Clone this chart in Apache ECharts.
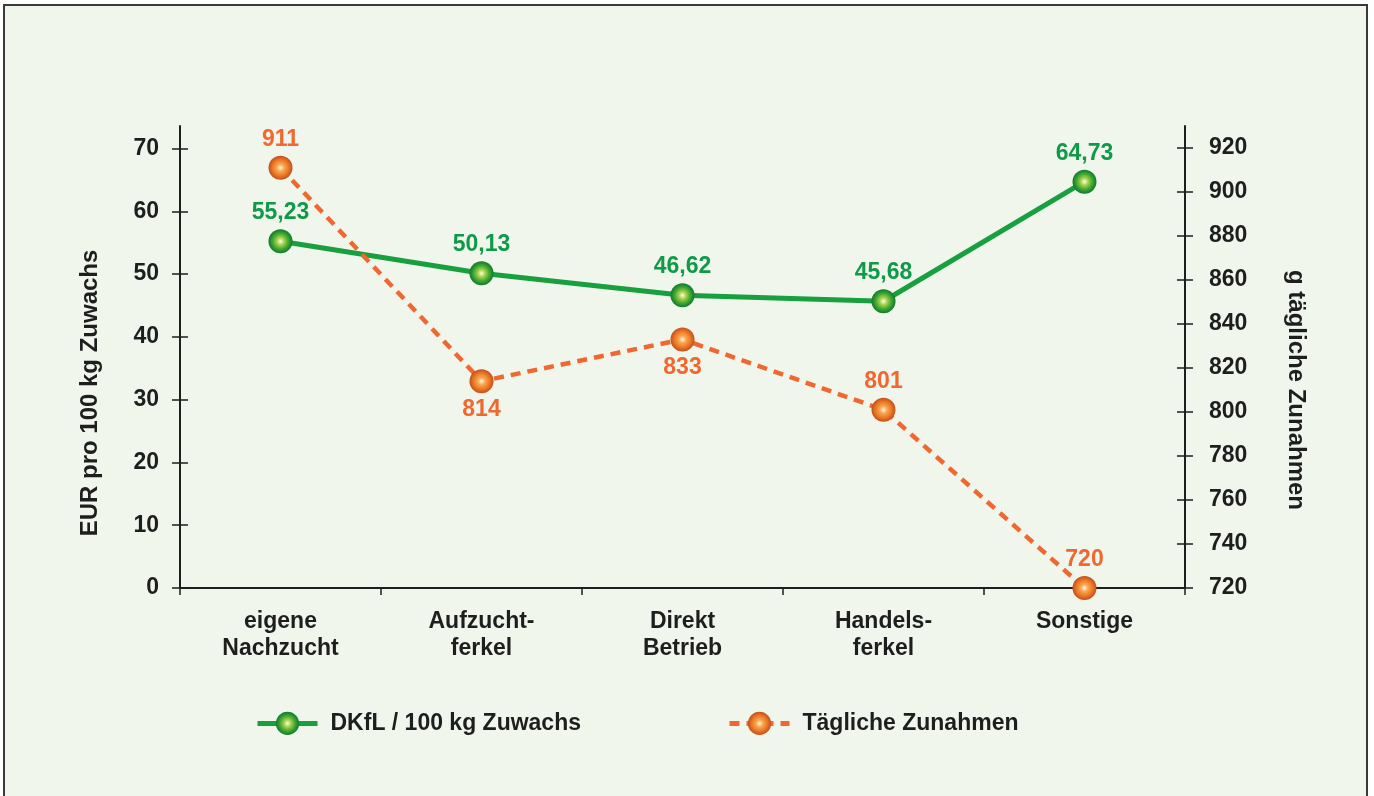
<!DOCTYPE html>
<html>
<head>
<meta charset="utf-8">
<script src="https://cdn.jsdelivr.net/npm/echarts@6/dist/echarts.min.js"></script>
<style>
  html, body { margin: 0; padding: 0; background: #ffffff; overflow: hidden; }
  #frame { position: absolute; left: 3px; top: 4px; width: 1361px; height: 820px;
           border: 2px solid #3a3a3a; background: #f0f6ec; }
  #chart { position: absolute; left: 0; top: 0; width: 1374px; height: 796px; }
</style>
</head>
<body>
<div id="frame"></div>
<div id="chart"></div>
<script>
// Kategorien und Werte
const categories = ['eigene\nNachzucht', 'Aufzucht-\nferkel', 'Direkt\nBetrieb', 'Handels-\nferkel', 'Sonstige']
const dkflValues = [55.23, 50.13, 46.62, 45.68, 64.73]
const zunahmenValues = [911, 814, 833, 801, 720]
const zunahmenLabelPos = ['top', 'bottom', 'bottom', 'top', 'top']
const leftTicks = [0, 10, 20, 30, 40, 50, 60, 70]
const rightTicks = [720, 740, 760, 780, 800, 820, 840, 860, 880, 900, 920]

const green = '#17a03d'
const greenText = '#0f9a48'
const orange = '#f0672f'
const dark = '#1e1e1e'
const font = 'Liberation Sans, Arial, sans-serif'
const fs = 23

const chart = echarts.init(document.getElementById('chart'))

const greenBall = {
  type: 'radial', x: 0.5, y: 0.5, r: 0.5,
  colorStops: [
    { offset: 0, color: '#fbfde8' },
    { offset: 0.3, color: '#a8d24c' },
    { offset: 0.65, color: '#43a832' },
    { offset: 1, color: '#0c7a2c' }
  ]
}
const orangeBall = {
  type: 'radial', x: 0.5, y: 0.5, r: 0.5,
  colorStops: [
    { offset: 0, color: '#fff4e2' },
    { offset: 0.3, color: '#f7a850' },
    { offset: 0.65, color: '#ee7a28' },
    { offset: 1, color: '#c2501a' }
  ]
}

function yAxisBase(extra) {
  return Object.assign({
    type: 'value',
    splitLine: { show: false },
    axisLine: { show: true, lineStyle: { color: dark, width: 2 } }
  }, extra)
}

const option = {
  backgroundColor: 'transparent',
  animation: false,
  textStyle: { fontFamily: font },
  grid: { left: 180, right: 189, top: 126, bottom: 208 },
  legend: {
    bottom: 56,
    left: 250,
    itemWidth: 60,
    itemHeight: 29,
    itemGap: 146,
    lineStyle: { width: 5 },
    textStyle: { fontSize: fs, fontWeight: 'bold', color: dark, fontFamily: font, padding: [0, 0, 0, 8] },
    data: ['DKfL / 100 kg Zuwachs', 'Tägliche Zunahmen']
  },
  xAxis: {
    type: 'category',
    data: categories,
    axisLine: { lineStyle: { color: dark, width: 2 } },
    axisTick: { show: true, length: 7, lineStyle: { color: dark, width: 1.5 } },
    axisLabel: {
      margin: 20, fontSize: fs, fontWeight: 'bold', color: dark, lineHeight: 27, fontFamily: font
    }
  },
  yAxis: [
    yAxisBase({
      min: 0, max: 73.6,
      position: 'left',
      axisTick: { show: true, length: 8, customValues: leftTicks, lineStyle: { color: dark, width: 1.5 } },
      axisLabel: { customValues: leftTicks, margin: 21, fontSize: fs, fontWeight: 'bold', color: dark, fontFamily: font }
    }),
    yAxisBase({
      min: 720, max: 930,
      position: 'right',
      axisTick: { show: true, length: 8, customValues: rightTicks, lineStyle: { color: dark, width: 1.5 } },
      axisLabel: { customValues: rightTicks, margin: 24, fontSize: fs, fontWeight: 'bold', color: dark, fontFamily: font }
    }),
    // zweite Tickhaelfte (nach innen) fuer die gekreuzten Ticks
    yAxisBase({
      min: 0, max: 73.6, position: 'left', offset: 0,
      axisLine: { show: false },
      axisTick: { show: true, inside: true, length: 8, customValues: leftTicks, lineStyle: { color: dark, width: 1.5 } },
      axisLabel: { show: false }
    }),
    yAxisBase({
      min: 720, max: 930, position: 'right', offset: 0,
      axisLine: { show: false },
      axisTick: { show: true, inside: true, length: 8, customValues: rightTicks, lineStyle: { color: dark, width: 1.5 } },
      axisLabel: { show: false }
    })
  ],
  graphic: [
    {
      type: 'text', x: 90, y: 393, rotation: Math.PI / 2,
      style: {
        text: 'EUR pro 100 kg Zuwachs', fontSize: 24, fontWeight: 'bold', fill: dark,
        fontFamily: font, align: 'center', verticalAlign: 'middle'
      }
    },
    {
      type: 'text', x: 1296, y: 390, rotation: -Math.PI / 2,
      style: {
        text: 'g tägliche Zunahmen', fontSize: 24, fontWeight: 'bold', fill: dark,
        fontFamily: font, align: 'center', verticalAlign: 'middle'
      }
    }
  ],
  series: [
    {
      name: 'DKfL / 100 kg Zuwachs',
      type: 'line',
      yAxisIndex: 0,
      data: dkflValues,
      symbol: 'circle',
      symbolSize: 24,
      z: 3,
      lineStyle: { color: green, width: 5 },
      itemStyle: { color: greenBall, borderWidth: 0 },
      label: {
        show: true, position: 'top', distance: 5,
        fontSize: fs, fontWeight: 'bold', color: greenText, fontFamily: font,
        formatter: p => p.value.toFixed(2).replace('.', ',')
      }
    },
    {
      name: 'Tägliche Zunahmen',
      type: 'line',
      yAxisIndex: 1,
      data: zunahmenValues.map((v, i) => ({ value: v, label: { position: zunahmenLabelPos[i] } })),
      symbol: 'circle',
      symbolSize: 24,
      z: 4,
      lineStyle: { color: orange, width: 4.5, type: [10, 7] },
      itemStyle: { color: orangeBall, borderWidth: 0 },
      label: {
        show: true, distance: 5,
        fontSize: fs, fontWeight: 'bold', color: orange, fontFamily: font
      }
    }
  ]
}

chart.setOption(option)
window.addEventListener('resize', () => chart.resize())
</script>
</body>
</html>
